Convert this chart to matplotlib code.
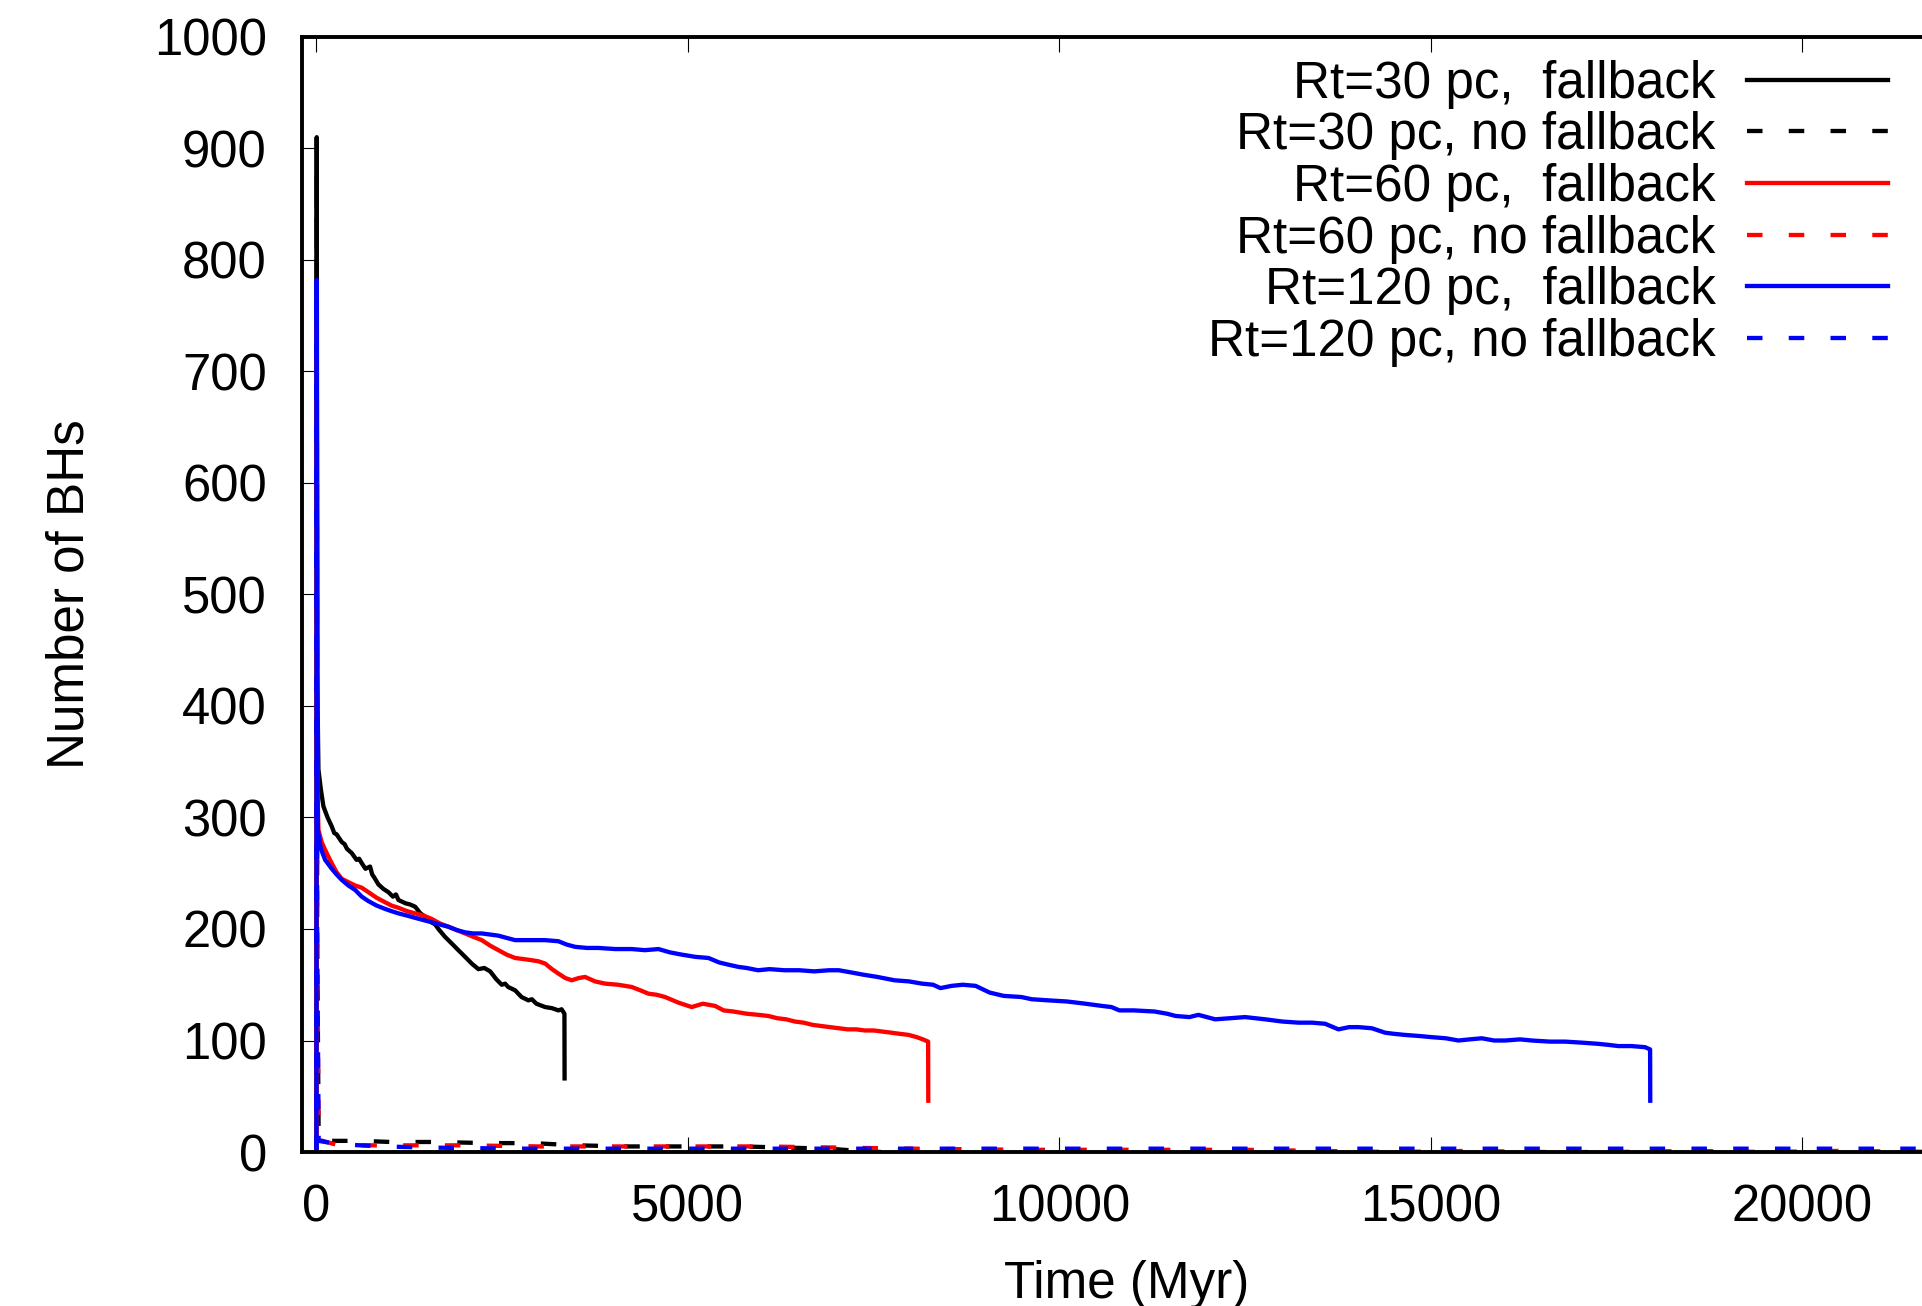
import numpy as np
import matplotlib
matplotlib.use("Agg")
import matplotlib.pyplot as plt

plt.rcParams['font.family'] = ['Liberation Sans', 'DejaVu Sans']

# datos (Tiempo en Myr, numero de BHs)
t_30_fb = [0, 4, 12, 27, 60, 94, 150, 206, 240, 270, 341, 380, 410, 476, 540, 575, 610, 660, 722,
           750, 780, 834, 900, 969, 1030, 1070, 1104, 1200, 1260, 1328, 1400, 1463, 1550, 1600,
           1642, 1730, 1821, 1910, 2001, 2090, 2180, 2260, 2338, 2420, 2494, 2540, 2580, 2674,
           2760, 2853, 2900, 2960, 3078, 3170, 3257, 3300, 3338, 3340]
n_30_fb = [0, 910, 420, 343, 325, 310, 300, 292, 286, 285, 278, 276, 272, 268, 262, 263, 259, 254, 256,
           249, 246, 240, 236, 233, 229, 231, 226, 223, 222, 220, 214, 211, 206, 204,
           200, 193, 187, 181, 175, 169, 164, 165, 162, 155, 150, 151, 148, 145,
           139, 136, 137, 133, 130, 129, 127, 128, 124, 66]

t_30_nofb = [0, 4, 10, 30, 230, 600, 1000, 1600, 2300, 2900, 3500, 4200, 5000, 5720, 6300,
             6900, 7300, 7600]
n_30_nofb = [0, 880, 200, 12, 10, 10, 9, 9, 8, 8, 6, 5, 5, 5, 4, 3, 1, 0]

t_60_fb = [0, 4, 12, 27, 70, 117, 160, 206, 270, 341, 430, 521, 610, 700, 810, 924, 1010, 1104,
           1220, 1328, 1440, 1552, 1660, 1777, 1890, 2001, 2110, 2225, 2340, 2450, 2560, 2674,
           2790, 2898, 2990, 3078, 3170, 3257, 3350, 3436, 3530, 3616, 3750, 3885, 4060, 4244,
           4360, 4468, 4580, 4693, 4870, 5051, 5200, 5366, 5480, 5612, 5792, 5950, 6083, 6200,
           6322, 6440, 6557, 6680, 6794, 6910, 7030, 7150, 7265, 7380, 7502, 7620, 7738, 7850,
           7973, 8080, 8163, 8233, 8235]
n_60_fb = [0, 742, 330, 289, 278, 271, 265, 259, 251, 245, 242, 239, 237, 233, 228, 224, 221, 219,
           216, 214, 212, 209, 205, 202, 199, 196, 193, 190, 185, 181, 177, 174,
           173, 172, 171, 169, 164, 160, 156, 154, 156, 157, 153, 151, 150, 148,
           145, 142, 141, 139, 134, 130, 133, 131, 127, 126, 124, 123, 122, 120,
           119, 117, 116, 114, 113, 112, 111, 110, 110, 109, 109, 108, 107, 106,
           105, 103, 101, 99, 46]

t_60_nofb = [0, 4, 10, 30, 300, 1100, 2000, 3000, 4500, 6000, 7000, 8000, 9500, 11000, 12500,
             13500, 14500, 15500, 16500, 17500, 18500, 19500, 20500, 21950]
n_60_nofb = [0, 735, 200, 11, 6, 6, 6, 5, 5, 5, 4, 3, 2, 2, 2, 1, 0, 1, 0, 0, 1, 0, 1, 0]

t_120_fb = [0, 4, 12, 20, 60, 117, 206, 270, 341, 430, 521, 610, 700, 810, 924, 1010, 1104, 1220,
            1328, 1440, 1552, 1660, 1777, 1890, 2001, 2110, 2225, 2340, 2450, 2560, 2674, 2790,
            2898, 3078, 3257, 3370, 3482, 3640, 3795, 4020, 4244, 4420, 4603, 4760, 4917, 5100,
            5276, 5420, 5545, 5680, 5792, 5944, 6100, 6300, 6500, 6700, 6900, 7031, 7200, 7362,
            7550, 7780, 7974, 8150, 8300, 8398, 8550, 8700, 8872, 9060, 9250, 9486, 9627, 9850,
            10100, 10350, 10572, 10700, 10808, 11000, 11280, 11450, 11564, 11750, 11871, 12096,
            12300, 12499, 12769, 13000, 13217, 13400, 13576, 13755, 13900, 14024, 14204, 14383,
            14500, 14652, 14850, 15011, 15200, 15370, 15520, 15684, 15850, 15998, 16200, 16357,
            16600, 16806, 17050, 17254, 17400, 17523, 17700, 17883, 17950, 17952]
n_120_fb = [0, 782, 330, 288, 272, 262, 254, 249, 244, 239, 235, 229, 225, 221, 218, 216, 214, 212,
            210, 208, 206, 204, 202, 199, 197, 196, 196, 195, 194, 192, 190, 190,
            190, 190, 189, 186, 184, 183, 183, 182, 182, 181, 182, 179, 177, 175,
            174, 170, 168, 166, 165, 163, 164, 163, 163, 162, 163, 163, 161, 159,
            157, 154, 153, 151, 150, 147, 149, 150, 149, 143, 140, 139, 137, 136,
            135, 133, 131, 130, 127, 127, 126, 124, 122, 121, 123, 119,
            120, 121, 119, 117, 116, 116, 115, 110, 112, 112, 111, 107,
            106, 105, 104, 103, 102, 100, 101, 102, 100, 100, 101, 100,
            99, 99, 98, 97, 96, 95, 95, 94, 92, 46]

t_120_nofb = [0, 4, 10, 30, 300, 900, 1500, 2700, 4000, 6000, 9000, 12000, 15000, 18000, 21950]
n_120_nofb = [0, 775, 200, 10, 7, 5, 4, 3, 3, 3, 3, 3, 3, 3, 3]

etiquetas = ["Rt=30 pc,  fallback", "Rt=30 pc, no fallback",
             "Rt=60 pc,  fallback", "Rt=60 pc, no fallback",
             "Rt=120 pc,  fallback", "Rt=120 pc, no fallback"]
xticks = [0, 5000, 10000, 15000, 20000]
yticks = list(range(0, 1001, 100))

fig = plt.figure(figsize=(19.22, 13.06), dpi=100)
ax = fig.add_axes([0.1569, 0.1179, 0.8582, 0.8539])

lw = 3.1
guion = (0, (3.6, 6.1))  # estilo punteado tipo gnuplot
ax.plot(t_30_fb, n_30_fb, color="black", lw=lw, label=etiquetas[0])
ax.plot(t_30_nofb, n_30_nofb, color="black", lw=lw, ls=guion, label=etiquetas[1])
ax.plot(t_60_fb, n_60_fb, color="red", lw=lw, label=etiquetas[2])
ax.plot(t_60_nofb, n_60_nofb, color="red", lw=lw, ls=guion, label=etiquetas[3])
ax.plot(t_120_fb, n_120_fb, color="blue", lw=lw, label=etiquetas[4])
ax.plot(t_120_nofb, n_120_nofb, color="blue", lw=lw, ls=guion, label=etiquetas[5])

ax.set_xlim(-200, 22000)
ax.set_ylim(0, 1000)
ax.set_xticks(xticks)
ax.set_yticks(yticks)

# bordes
ax.spines["right"].set_visible(False)
for s in ["left", "bottom", "top"]:
    ax.spines[s].set_linewidth(2.8)

ax.tick_params(direction="in", length=11, width=0.8, top=True, right=False, labelsize=36.5)
ax.tick_params(axis="x", pad=23)
ax.tick_params(axis="y", pad=25)

ax.set_xlabel("Time (Myr)", fontsize=36.8)
ax.set_ylabel("Number of BHs", fontsize=36.8)
ax.xaxis.set_label_coords(0.5, -0.097)
ax.yaxis.set_label_coords(-0.1255, 0.5)

ax.legend(loc="upper right", bbox_to_anchor=(0.9823, 0.9543), bbox_transform=fig.transFigure,
          frameon=False, markerfirst=False, handlelength=2.76, handletextpad=0.61,
          labelspacing=0.052, borderpad=0, borderaxespad=0, fontsize=36.8)

plt.savefig("out.png", dpi=100)
